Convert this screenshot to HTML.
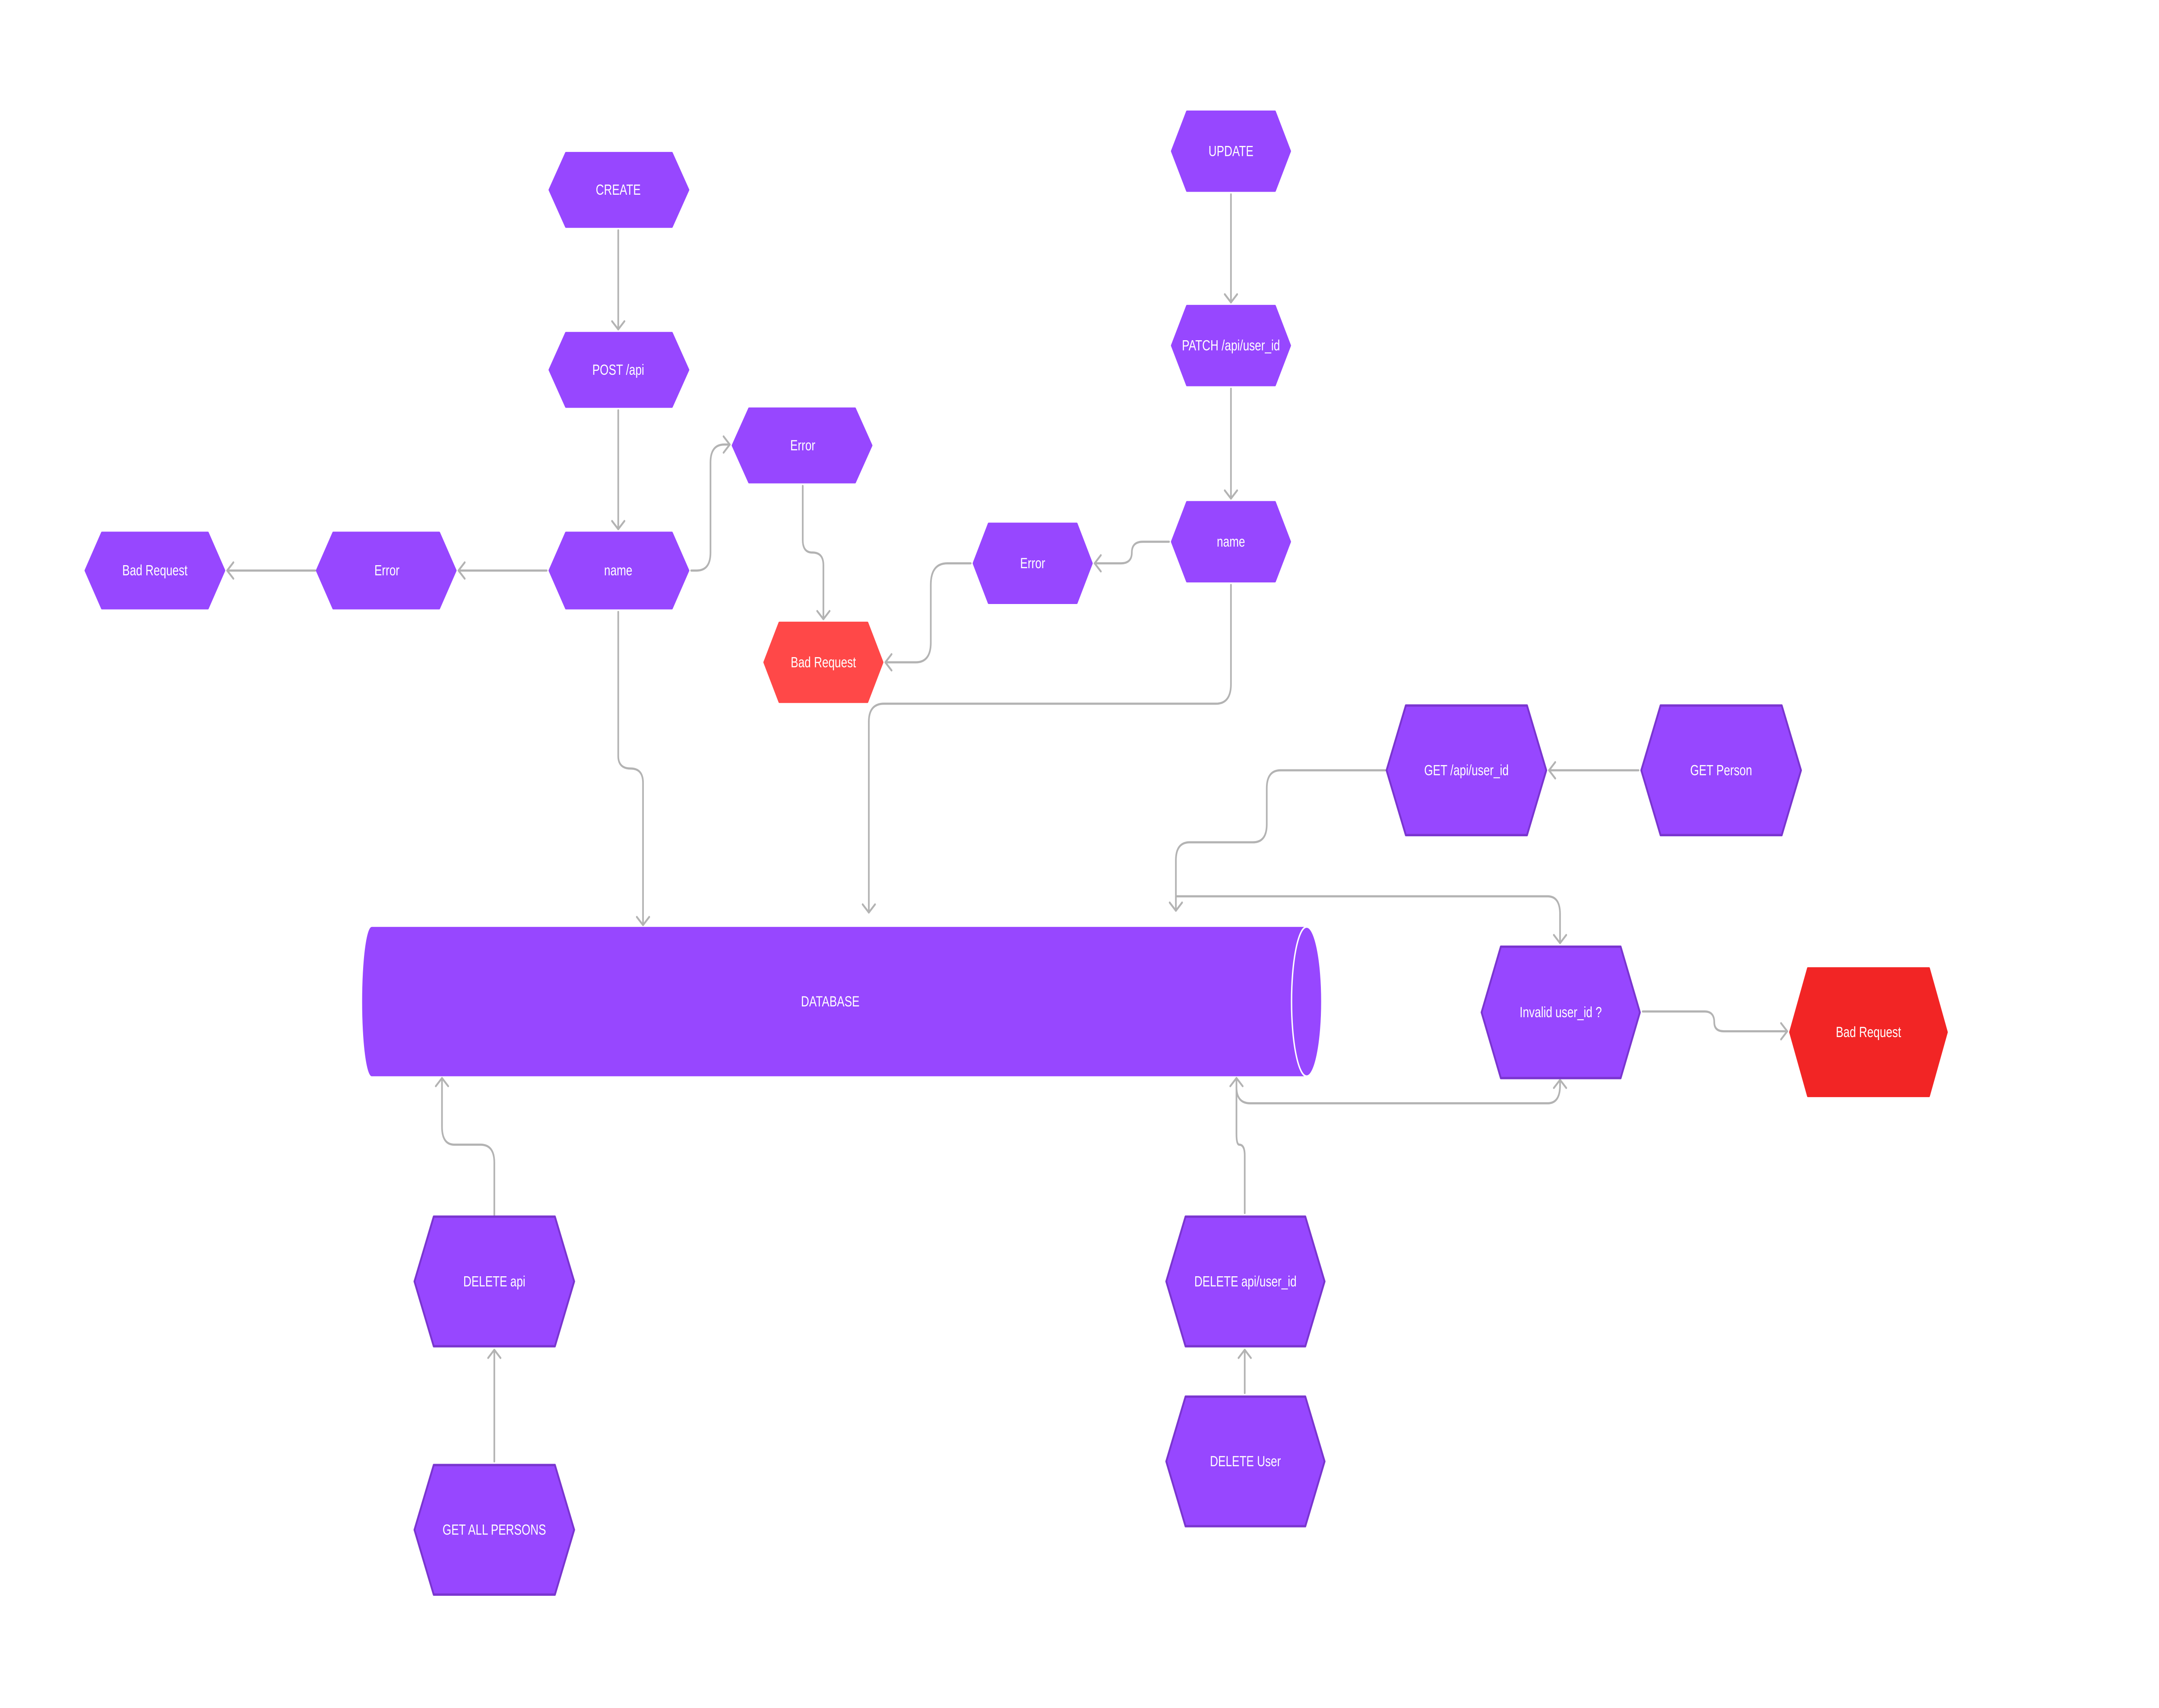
<!DOCTYPE html>
<html><head><meta charset="utf-8"><style>
html,body{margin:0;padding:0;background:#fff;width:100%;height:100%;overflow:hidden;}
svg{display:block;width:100vw;height:100vh;}
text{font-family:"Liberation Sans",sans-serif;fill:#fff;font-size:8.2px;text-anchor:middle;dominant-baseline:central;}
.c{fill:none;stroke:#b3b3b3;stroke-width:1.2;stroke-linecap:round;stroke-linejoin:round;}
.p{fill:#9747ff;stroke:#9747ff;stroke-width:1.2;stroke-linejoin:round;}
.t{fill:#9747ff;stroke:#7a35d0;stroke-width:1.3;stroke-linejoin:round;}
</style></head><body>
<svg viewBox="0 0 1568 949" preserveAspectRatio="none" xmlns="http://www.w3.org/2000/svg" style="overflow:hidden">
<defs>
<marker id="a" markerUnits="userSpaceOnUse" markerWidth="12" markerHeight="12" refX="0" refY="0" viewBox="-6 -6 12 12" orient="auto" overflow="visible">
<path d="M-4.5,-4.5 L0,0 L-4.5,4.5" fill="none" stroke="#b3b3b3" stroke-width="1.2" stroke-linecap="round" stroke-linejoin="round"/>
</marker>
</defs>

<path class="c" marker-end="url(#a)" d="M449,128 V183"/>
<path class="c" marker-end="url(#a)" d="M449,228 V294"/>
<path class="c" marker-end="url(#a)" d="M397,317 H333"/>
<path class="c" marker-end="url(#a)" d="M229,317 H165"/>
<path class="c" marker-end="url(#a)" d="M502,317 H506 Q516,317 516,307 V257 Q516,247 526,247 H530"/>
<path class="c" marker-end="url(#a)" d="M583,270 V300 Q583,307 590,307 Q598,307 598,314 V344"/>
<path class="c" marker-end="url(#a)" d="M449,340 V420 Q449,427 458,427 Q467,427 467,435 V514"/>
<path class="c" marker-end="url(#a)" d="M894,108 V168"/>
<path class="c" marker-end="url(#a)" d="M894,216 V277"/>
<path class="c" marker-end="url(#a)" d="M849,301 H830 Q822,301 822,307 Q822,313 814,313 H795"/>
<path class="c" marker-end="url(#a)" d="M705,313 H688 Q676,313 676,325 V357 Q676,368 665,368 H643"/>
<path class="c" marker-end="url(#a)" d="M894,325 V380 Q894,391 883,391 H642 Q631,391 631,401 V507"/>
<path class="c" marker-end="url(#a)" d="M1190,428 H1125"/>
<path class="c" marker-end="url(#a)" d="M1006,428 H930 Q920,428 920,438 V458 Q920,468 910,468 H864 Q854,468 854,478 V506"/>
<path class="c" marker-end="url(#a)" d="M854,498 H1124 Q1133,498 1133,508 V524"/>
<path class="c" marker-end="url(#a)" d="M1193,562 H1238 Q1245,562 1245,568 Q1245,573 1252,573 H1298"/>
<path class="c" marker-end="url(#a)" d="M359,675 V646 Q359,636 349,636 H330 Q321,636 321,626 V599"/>
<path class="c" marker-end="url(#a)" d="M359,812 V750"/>
<path class="c" marker-end="url(#a)" d="M904,774 V750"/>
<path class="c" marker-end="url(#a)" d="M904,674 V642 Q904,636 900,636 Q898,636 898,630 V599"/>
<path class="c" marker-end="url(#a)" d="M898,604 Q898,613 908,613 H1124 Q1133,613 1133,603 V600"/>

<rect x="270" y="515" width="679" height="83" fill="#9747ff"/>
<ellipse cx="270" cy="556.5" rx="7" ry="41.5" fill="#9747ff"/>
<ellipse cx="949" cy="556.5" rx="11" ry="41.5" fill="#9747ff" stroke="#fff" stroke-width="1"/>
<text x="603" y="556.5">DATABASE</text>

<polygon class="p" points="411,85 488,85 500,105.5 488,126 411,126 399,105.5"/><text x="449" y="105.5">CREATE</text>
<polygon class="p" points="411,185 488,185 500,205.5 488,226 411,226 399,205.5"/><text x="449" y="205.5">POST /api</text>
<polygon class="p" points="411,296 488,296 500,317 488,338 411,338 399,317"/><text x="449" y="317">name</text>
<polygon class="p" points="242,296 319,296 331,317 319,338 242,338 230,317"/><text x="281" y="317">Error</text>
<polygon class="p" points="74,296 151,296 163,317 151,338 74,338 62,317"/><text x="112.5" y="317">Bad Request</text>
<polygon class="p" points="544,227 621,227 633,247.5 621,268 544,268 532,247.5"/><text x="583" y="247.5">Error</text>
<polygon points="566,346 630,346 641,368 630,390 566,390 555,368" fill="#ff4848" stroke="#ff4848" stroke-width="1.2" stroke-linejoin="round"/><text x="598" y="368">Bad Request</text>
<polygon class="p" points="862,62 926,62 937,84 926,106 862,106 851,84"/><text x="894" y="84">UPDATE</text>
<polygon class="p" points="862,170 926,170 937,192 926,214 862,214 851,192"/><text x="894" y="192">PATCH /api/user_id</text>
<polygon class="p" points="862,279 926,279 937,301 926,323 862,323 851,301"/><text x="894" y="301">name</text>
<polygon class="p" points="718,291 782,291 793,313 782,335 718,335 707,313"/><text x="750" y="313">Error</text>

<polygon class="t" points="1021,392 1109,392 1123,428 1109,464 1021,464 1007,428"/><text x="1065" y="428">GET /api/user_id</text>
<polygon class="t" points="1206,392 1294,392 1308,428 1294,464 1206,464 1192,428"/><text x="1250" y="428">GET Person</text>
<polygon class="t" points="1090,526 1177,526 1191,562.5 1177,599 1090,599 1076,562.5"/><text x="1133.5" y="562.5">Invalid user_id ?</text>
<polygon points="1313,538 1401,538 1414,573.5 1401,609 1313,609 1300,573.5" fill="#f22525" stroke="#f22525" stroke-width="1.2" stroke-linejoin="round"/><text x="1357" y="573.5">Bad Request</text>
<polygon class="t" points="315,676 403,676 417,712 403,748 315,748 301,712"/><text x="359" y="712">DELETE api</text>
<polygon class="t" points="315,814 403,814 417,850 403,886 315,886 301,850"/><text x="359" y="850">GET ALL PERSONS</text>
<polygon class="t" points="861,676 948,676 962,712 948,748 861,748 847,712"/><text x="904.5" y="712">DELETE api/user_id</text>
<polygon class="t" points="861,776 948,776 962,812 948,848 861,848 847,812"/><text x="904.5" y="812">DELETE User</text>
</svg>
</body></html>
